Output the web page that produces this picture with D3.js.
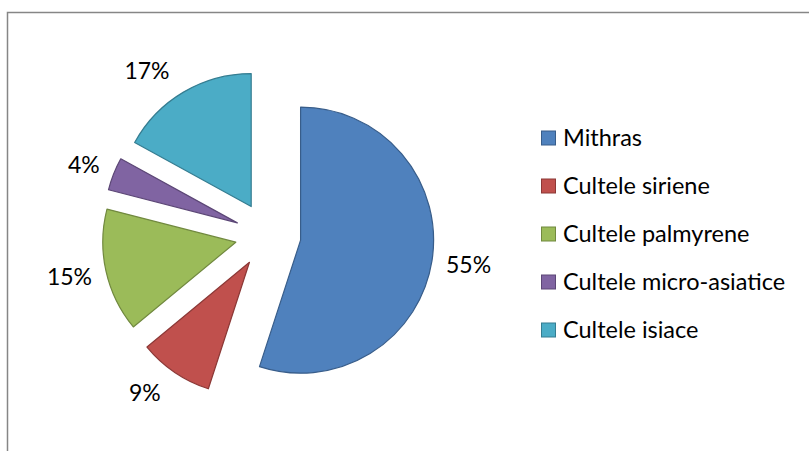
<!DOCTYPE html>
<html>
<head>
<meta charset="utf-8">
<style>
    body { margin: 0; background: #fff; }
    svg { display: block; font-family: Lato, 'Noto Sans', sans-serif; }
</style>
</head>
<body>
<svg width="809" height="451"></svg>

<script src="https://d3js.org/d3.v7.min.js"></script>
<script>
    // data
    let categories = ["Mithras", "Cultele siriene", "Cultele palmyrene", "Cultele micro-asiatice", "Cultele isiace"]
    let values = [55, 9, 15, 4, 17]
    let fills = ["#4F81BD", "#C0504D", "#9BBB59", "#8064A2", "#4BACC6"]
    let strokes = ["#385D8A", "#8C3836", "#71893F", "#5C4776", "#357D91"]

    let width = 809
    let height = 451

    let svg = d3.select("svg")

    // chart frame (right/bottom run past the window)
    svg.append("rect")
        .attr("x", 7.5)
        .attr("y", 12.5)
        .attr("width", 900)
        .attr("height", 600)
        .style("fill", "none")
        .style("stroke", "#868686")
        .style("stroke-width", 1.5)

    let cx = 268, cy = 235
    let radius = 133
    let explode = 33

    let pie = d3.pie().sort(null).value(d => d)
    let arcs = pie(values)

    let arc = d3.arc().innerRadius(0).outerRadius(radius)

    function dir(d) {
        let a = (d.startAngle + d.endAngle) / 2
        return [Math.sin(a), -Math.cos(a)]
    }

    let g = svg.append("g").attr("transform", `translate(${cx},${cy})`)

    g.selectAll(".slice")
        .data(arcs)
        .join("path")
        .attr("class", "slice")
        .attr("d", arc)
        .attr("transform", d => {
            let v = dir(d)
            return `translate(${v[0] * explode},${v[1] * explode})`
        })
        .style("fill", (d, i) => fills[i])
        .style("stroke", (d, i) => strokes[i])
        .style("stroke-width", 1.2)
        .style("stroke-linejoin", "round")

    // outside-end labels: sit beside the point where the bisector leaves the slice
    let labels = g.selectAll(".pct")
        .data(arcs)
        .join("text")
        .attr("class", "pct")
        .attr("dy", "0.35em")
        .attr("text-anchor", "middle")
        .style("font-size", "23px")
        .style("fill", "#000")
        .text(d => d.data + "%")

    labels.each(function(d) {
        let w = this.getComputedTextLength()
        let v = dir(d)
        let edge = radius + explode
        let x = v[0] * edge + Math.sign(v[0]) * (w / 2 + 14)
        let y = v[1] * edge + v[1] * 25
        d3.select(this).attr("x", x).attr("y", y)
    })

    // legend
    let legendY = d3.scalePoint()
        .domain(categories)
        .range([138, 330])

    let legend = svg.selectAll(".legend")
        .data(categories)
        .join("g")
        .attr("class", "legend")
        .attr("transform", d => `translate(541,${legendY(d)})`)

    legend.append("rect")
        .attr("x", 0.5)
        .attr("y", -7)
        .attr("width", 14)
        .attr("height", 14)
        .style("fill", (d, i) => fills[i])
        .style("stroke", (d, i) => strokes[i])
        .style("stroke-width", 1)

    legend.append("text")
        .attr("x", 22)
        .attr("y", 0)
        .attr("dy", "0.35em")
        .style("font-size", "23.5px")
        .style("fill", "#000")
        .text(d => d)
</script>
</body>
</html>
